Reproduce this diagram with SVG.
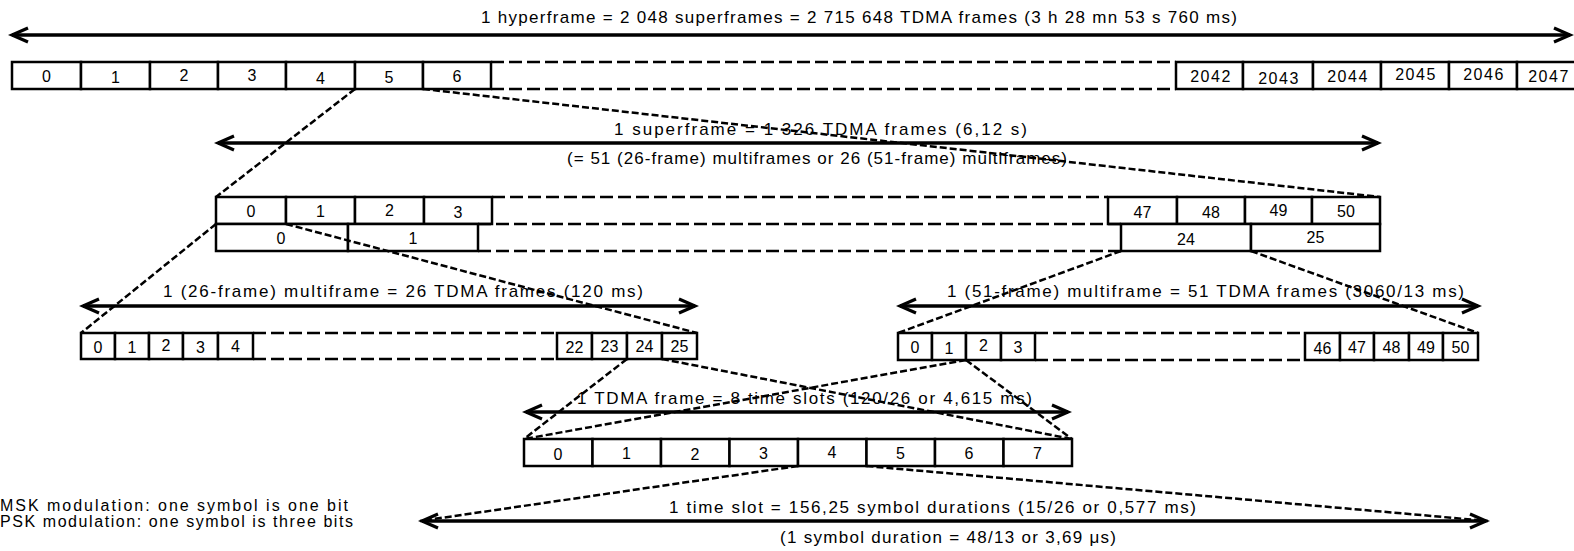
<svg xmlns="http://www.w3.org/2000/svg" width="1574" height="551" viewBox="0 0 1574 551">
<defs>
<marker id="ah" markerUnits="userSpaceOnUse" markerWidth="24" markerHeight="20" refX="19" refY="10" orient="auto-start-reverse">
<path d="M3,3 L19,10 L3,17" fill="none" stroke="#000" stroke-width="3.2"/>
</marker>
<style>
.lbl{font-family:"Liberation Sans",Arial,sans-serif;font-size:17px;fill:#000}
.side{font-family:"Liberation Sans",Arial,sans-serif;font-size:16px;fill:#000}
.num{font-family:"Liberation Sans",Arial,sans-serif;font-size:16px;fill:#000;text-anchor:middle}
.wide{letter-spacing:1.5px}
.cell{fill:#fff;stroke:#000;stroke-width:2.5}
.dash{stroke:#000;stroke-width:2.5;stroke-dasharray:13 5;fill:none}
.arrow{stroke:#000;stroke-width:3.5;fill:none;marker-start:url(#ah);marker-end:url(#ah)}
.conn{stroke:#000;stroke-width:2.5;stroke-dasharray:7 3;fill:none}
</style>
</defs>
<rect width="1574" height="551" fill="#fff"/>

<g id="hyperframe">
<text class="lbl" x="481" y="23" textLength="756" lengthAdjust="spacing">1 hyperframe = 2 048 superframes = 2 715 648 TDMA frames (3 h 28 mn 53 s 760 ms)</text>
<line class="arrow" x1="12" y1="35" x2="1570" y2="35"/>
<rect class="cell" x="12" y="62" width="69" height="27"/>
<rect class="cell" x="81" y="62" width="69" height="27"/>
<rect class="cell" x="150" y="62" width="68" height="27"/>
<rect class="cell" x="218" y="62" width="68" height="27"/>
<rect class="cell" x="286" y="62" width="69" height="27"/>
<rect class="cell" x="355" y="62" width="68" height="27"/>
<rect class="cell" x="423" y="62" width="68" height="27"/>
<line class="dash" x1="491" y1="62" x2="1176" y2="62"/>
<line class="dash" x1="491" y1="89" x2="1176" y2="89"/>
<rect class="cell" x="1176" y="62" width="67" height="27"/>
<rect class="cell" x="1243" y="62" width="70" height="27"/>
<rect class="cell" x="1313" y="62" width="68" height="27"/>
<rect class="cell" x="1381" y="62" width="68" height="27"/>
<rect class="cell" x="1449" y="62" width="68" height="27"/>
<rect class="cell" x="1517" y="62" width="70" height="27"/>
<text class="num" x="46.5" y="82">0</text>
<text class="num" x="115.5" y="83">1</text>
<text class="num" x="184" y="81">2</text>
<text class="num" x="252" y="81">3</text>
<text class="num" x="320.5" y="84">4</text>
<text class="num" x="389" y="83">5</text>
<text class="num" x="457" y="82">6</text>
<text class="num wide" x="1211" y="82">2042</text>
<text class="num wide" x="1279" y="84">2043</text>
<text class="num wide" x="1348" y="82">2044</text>
<text class="num wide" x="1416" y="80">2045</text>
<text class="num wide" x="1484" y="80">2046</text>
<text class="num wide" x="1549" y="82">2047</text>
</g>

<g id="superframe">
<text class="lbl" x="614" y="135" textLength="413" lengthAdjust="spacing">1 superframe = 1 326 TDMA frames (6,12 s)</text>
<line class="arrow" x1="218" y1="143" x2="1378" y2="143"/>
<text class="lbl" x="567" y="164" textLength="500" lengthAdjust="spacing">(= 51 (26-frame) multiframes or 26 (51-frame) multiframes)</text>
<rect class="cell" x="216" y="197" width="70" height="27"/>
<rect class="cell" x="286" y="197" width="69" height="27"/>
<rect class="cell" x="355" y="197" width="69" height="27"/>
<rect class="cell" x="424" y="197" width="68" height="27"/>
<line class="dash" x1="492" y1="197" x2="1108" y2="197"/>
<rect class="cell" x="1108" y="197" width="69" height="27"/>
<rect class="cell" x="1177" y="197" width="68" height="27"/>
<rect class="cell" x="1245" y="197" width="67" height="27"/>
<rect class="cell" x="1312" y="197" width="68" height="27"/>
<rect class="cell" x="216" y="224" width="132" height="27"/>
<rect class="cell" x="348" y="224" width="130" height="27"/>
<line class="dash" x1="478" y1="224" x2="1121" y2="224"/>
<line class="dash" x1="478" y1="251" x2="1121" y2="251"/>
<rect class="cell" x="1121" y="224" width="130" height="27"/>
<rect class="cell" x="1251" y="224" width="129" height="27"/>
<text class="num" x="251" y="217">0</text>
<text class="num" x="320.5" y="217">1</text>
<text class="num" x="389.5" y="216">2</text>
<text class="num" x="458" y="218">3</text>
<text class="num" x="1142.5" y="218">47</text>
<text class="num" x="1211" y="218">48</text>
<text class="num" x="1278.5" y="216">49</text>
<text class="num" x="1346" y="217">50</text>
<text class="num" x="281" y="244">0</text>
<text class="num" x="413" y="244">1</text>
<text class="num" x="1186" y="245">24</text>
<text class="num" x="1315.5" y="243">25</text>
</g>

<g id="multiframe26">
<text class="lbl" x="163" y="297" textLength="480" lengthAdjust="spacing">1 (26-frame) multiframe = 26 TDMA frames (120 ms)</text>
<line class="arrow" x1="83" y1="306" x2="695" y2="306"/>
<rect class="cell" x="81" y="333" width="34" height="26"/>
<rect class="cell" x="115" y="333" width="34" height="26"/>
<rect class="cell" x="149" y="333" width="34" height="26"/>
<rect class="cell" x="183" y="333" width="35" height="26"/>
<rect class="cell" x="218" y="333" width="35" height="26"/>
<line class="dash" x1="253" y1="333" x2="557" y2="333"/>
<line class="dash" x1="253" y1="359" x2="557" y2="359"/>
<rect class="cell" x="557" y="333" width="35" height="26"/>
<rect class="cell" x="592" y="333" width="35" height="26"/>
<rect class="cell" x="627" y="333" width="35" height="26"/>
<rect class="cell" x="662" y="333" width="35" height="26"/>
<text class="num" x="98" y="353">0</text>
<text class="num" x="132" y="353">1</text>
<text class="num" x="166" y="351">2</text>
<text class="num" x="200.5" y="353">3</text>
<text class="num" x="235.5" y="352">4</text>
<text class="num" x="574.5" y="353">22</text>
<text class="num" x="609.5" y="352">23</text>
<text class="num" x="644.5" y="352">24</text>
<text class="num" x="679.5" y="352">25</text>
</g>

<g id="multiframe51">
<text class="lbl" x="947" y="297" textLength="517" lengthAdjust="spacing">1 (51-frame) multiframe = 51 TDMA frames (3060/13 ms)</text>
<line class="arrow" x1="900" y1="306" x2="1478" y2="306"/>
<rect class="cell" x="898" y="333" width="34" height="27"/>
<rect class="cell" x="932" y="333" width="34" height="27"/>
<rect class="cell" x="966" y="333" width="35" height="27"/>
<rect class="cell" x="1001" y="333" width="34" height="27"/>
<line class="dash" x1="1035" y1="333" x2="1305" y2="333"/>
<line class="dash" x1="1035" y1="360" x2="1305" y2="360"/>
<rect class="cell" x="1305" y="333" width="35" height="27"/>
<rect class="cell" x="1340" y="333" width="34" height="27"/>
<rect class="cell" x="1374" y="333" width="35" height="27"/>
<rect class="cell" x="1409" y="333" width="34" height="27"/>
<rect class="cell" x="1443" y="333" width="35" height="27"/>
<text class="num" x="915" y="353">0</text>
<text class="num" x="949" y="354">1</text>
<text class="num" x="983.5" y="351">2</text>
<text class="num" x="1018" y="353">3</text>
<text class="num" x="1322.5" y="354">46</text>
<text class="num" x="1357" y="353">47</text>
<text class="num" x="1391.5" y="353">48</text>
<text class="num" x="1426" y="353">49</text>
<text class="num" x="1460.5" y="353">50</text>
</g>

<g id="tdmaframe">
<text class="lbl" x="577" y="404" textLength="455" lengthAdjust="spacing">1 TDMA frame = 8 time slots (120/26 or 4,615 ms)</text>
<line class="arrow" x1="526" y1="412" x2="1068" y2="412"/>
<rect class="cell" x="524" y="439" width="68.5" height="27"/>
<rect class="cell" x="592.5" y="439" width="68.5" height="27"/>
<rect class="cell" x="661" y="439" width="68.5" height="27"/>
<rect class="cell" x="729.5" y="439" width="68.5" height="27"/>
<rect class="cell" x="798" y="439" width="68.5" height="27"/>
<rect class="cell" x="866.5" y="439" width="68.5" height="27"/>
<rect class="cell" x="935" y="439" width="68.5" height="27"/>
<rect class="cell" x="1003.5" y="439" width="68.5" height="27"/>
<text class="num" x="558" y="460">0</text>
<text class="num" x="626.5" y="459">1</text>
<text class="num" x="695" y="460">2</text>
<text class="num" x="763.5" y="459">3</text>
<text class="num" x="832" y="458">4</text>
<text class="num" x="900.5" y="459">5</text>
<text class="num" x="969" y="459">6</text>
<text class="num" x="1037.5" y="459">7</text>
</g>

<g id="timeslot">
<text class="lbl" x="669" y="513" textLength="527" lengthAdjust="spacing">1 time slot = 156,25 symbol durations (15/26 or 0,577 ms)</text>
<line class="arrow" x1="422" y1="521" x2="1486" y2="521"/>
<text class="lbl" x="780" y="543" textLength="336" lengthAdjust="spacing">(1 symbol duration = 48/13 or 3,69 μs)</text>
</g>

<g id="modulation-note">
<text class="side" x="0" y="511" textLength="348" lengthAdjust="spacing">MSK modulation: one symbol is one bit</text>
<text class="side" x="0" y="527" textLength="353" lengthAdjust="spacing">PSK modulation: one symbol is three bits</text>
</g>

<g id="connectors">
<line class="conn" x1="355" y1="89" x2="216" y2="197"/>
<line class="conn" x1="423" y1="89" x2="1380" y2="197"/>
<line class="conn" x1="216" y1="224" x2="81" y2="333"/>
<line class="conn" x1="286" y1="224" x2="697" y2="333"/>
<line class="conn" x1="1121" y1="251" x2="898" y2="333"/>
<line class="conn" x1="1251" y1="251" x2="1478" y2="333"/>
<line class="conn" x1="627" y1="359" x2="524" y2="439"/>
<line class="conn" x1="662" y1="359" x2="1072" y2="439"/>
<line class="conn" x1="966" y1="360" x2="524" y2="439"/>
<line class="conn" x1="966" y1="360" x2="1072" y2="439"/>
<line class="conn" x1="798" y1="466" x2="420" y2="521"/>
<line class="conn" x1="866.5" y1="466" x2="1488" y2="521"/>
</g>
</svg>
